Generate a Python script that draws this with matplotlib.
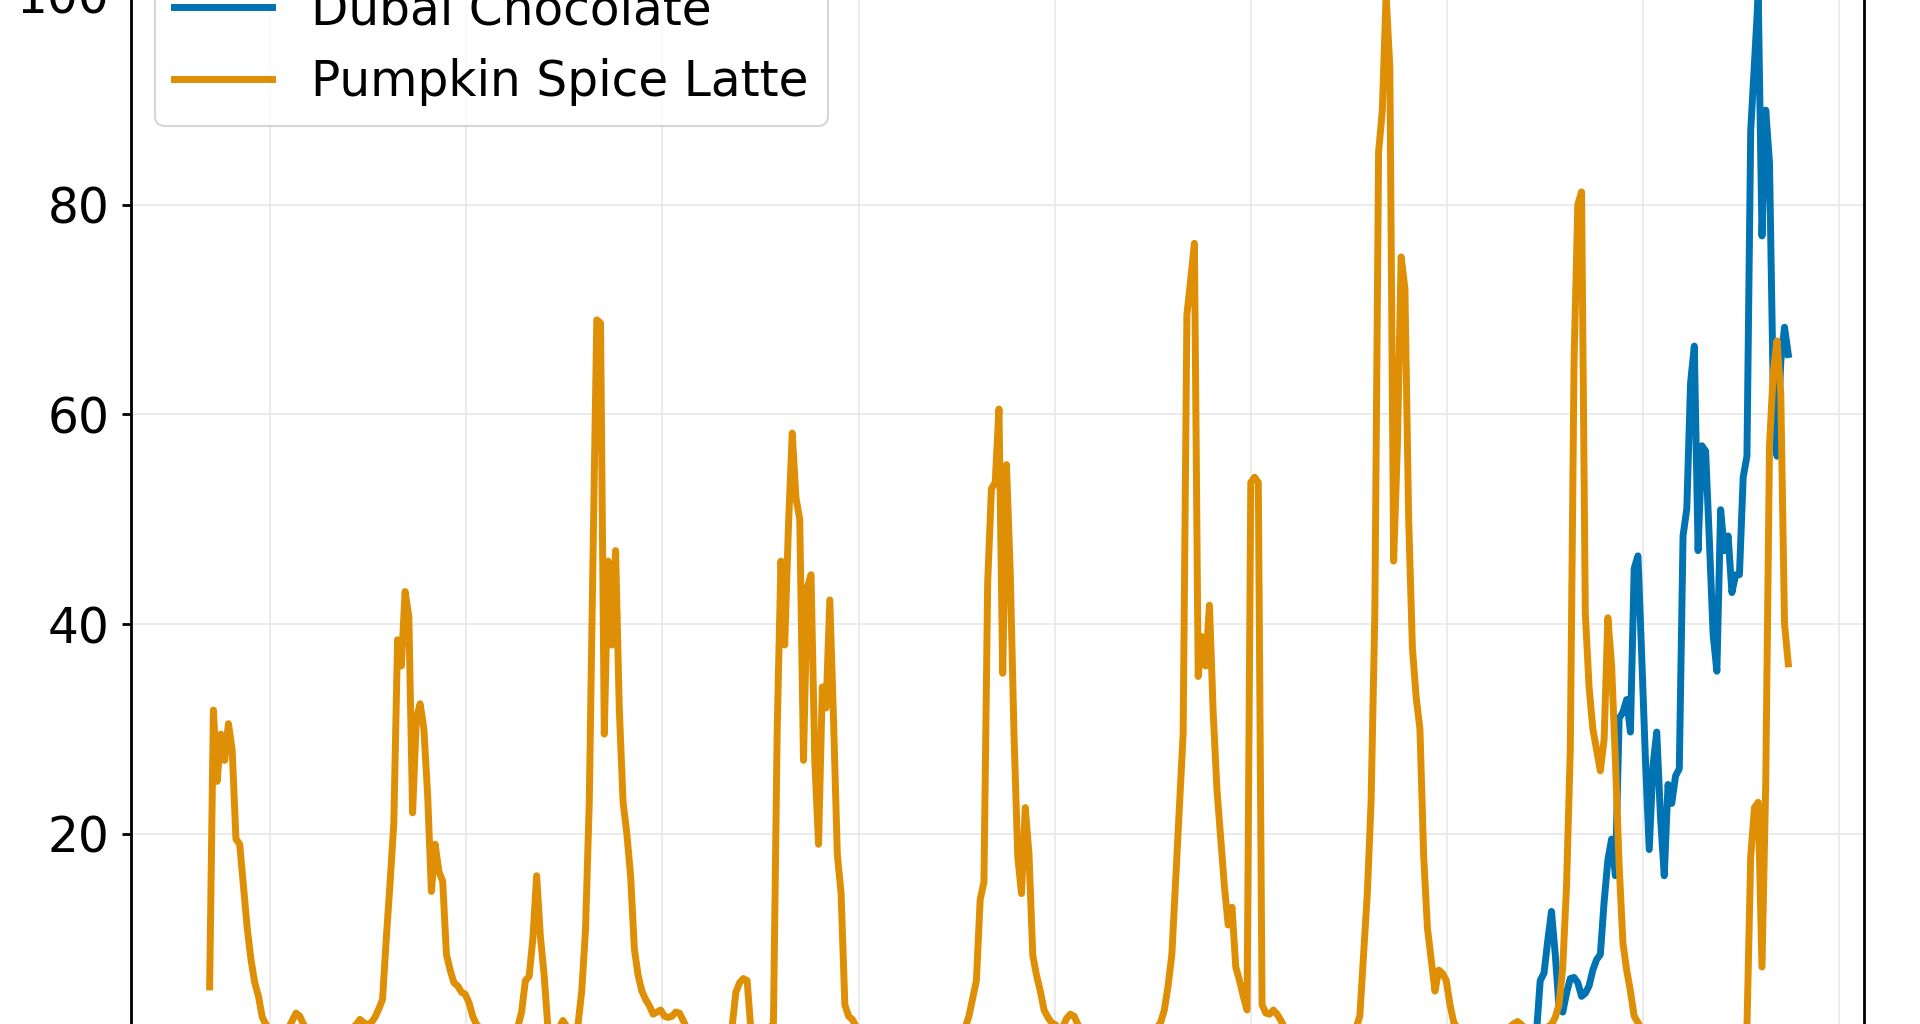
import numpy as np
import pandas as pd
import matplotlib
matplotlib.use("Agg")
import matplotlib.pyplot as plt
import matplotlib.dates as mdates

# ---------------- data (weekly search interest, 0-100) ----------------
FIRST_WEEK = "2017-09-10"
series_labels = ["Dubai Chocolate", "Pumpkin Spice Latte"]
x_range = ("2017-04-16", "2026-02-16")

# week numbers (counted from FIRST_WEEK) where each block of values begins
psl_block_start_weeks = [0, 43, 98, 149, 201, 252, 305, 358, 409]

psl_2017 = [5.4, 31.8, 25, 29.5, 27, 30.5, 28, 19.5, 19, 15, 11, 8, 5.8, 4.5, 2.5,
            1.8, 1.4, 1.2, 1.1, 1.0, 1.2, 1.5, 2.2, 2.9, 2.6, 1.8, 1.4, 1.3, 1.2,
            1.1, 1.0, 1.0, 1.0, 1.1, 1.2, 1.4, 1.5, 1.4, 1.5, 1.8, 2.3, 2.0, 1.8]
psl_2018 = [2.0, 2.5, 3.3, 4.2, 10, 15.3, 21, 38.5, 36, 43.1, 40.7, 22, 31, 32.4,
            30, 23.7, 14.5, 19, 16.4, 15.5, 8.5, 7, 5.8, 5.5, 4.9, 4.7, 3.9, 2.6,
            1.8, 1.5, 1.3, 1.2, 1.1, 1.0, 1.0, 1.0, 1.1, 1.2, 1.4, 1.6, 3, 6, 6.4,
            10, 16, 10.2, 6.5, 1.5, 1.3, 1.2, 1.5, 2.2, 1.6, 1.3, 1.2]
psl_2019 = [1.8, 5, 10.8, 23, 46.5, 69, 68.7, 29.5, 46, 38,
            47, 31.8, 23, 20, 16, 9, 6.5, 5, 4.2, 3.6,
            2.8, 3.0, 3.2, 2.6, 2.5, 2.6, 3.0, 2.9, 2.2, 1.4,
            1.2, 1.1, 1.0, 1.0, 1.0, 1.0, 1.1, 1.2, 1.3, 1.4,
            1.5, 1.6, 4.9, 5.8, 6.2, 6.0, 1.3, 1.2, 1.2, 1.3,
            1.4]
psl_2020 = [1.3, 2.0, 30, 46, 38, 49.4, 58.2, 52, 50, 27,
            43.5, 44.7, 27, 19, 34, 32, 42.3, 30.7, 18, 14.3,
            3.7, 2.6, 2.3, 1.6, 1.3, 1.2, 1.0, 1.0, 1.0, 0.9,
            0.9, 1.0, 1.0, 1.1, 1.1, 1.2, 1.2, 1.3, 1.2, 1.2,
            1.3, 1.4, 1.3, 1.2, 1.3, 1.4, 1.5, 1.4, 1.3, 1.4,
            1.5, 1.4]
psl_2021 = [1.5, 2.6, 4.3, 6, 13.7, 15.4, 44, 52.9, 53.5, 60.5,
            35.3, 55.2, 45, 29.5, 17.8, 14.3, 22.5, 18, 8.4, 6.5,
            5, 3.2, 2.5, 2, 1.8, 1.4, 1.6, 2.4, 2.8, 2.6,
            1.8, 1.3, 1.2, 1.1, 1.0, 1.0, 1.0, 1.0, 1.1, 1.1,
            1.2, 1.2, 1.3, 1.3, 1.2, 1.3, 1.4, 1.4, 1.3, 1.4,
            1.5]
psl_2022 = [1.5, 2, 3.2, 5.5, 8.5, 15.4, 22.5, 29.5, 69.5, 72.8,
            76.3, 35, 38.8, 36, 41.8, 31.5, 24.2, 19.5, 14.9, 11.3,
            13, 7.3, 6, 4.5, 3.2, 53.5, 54, 53.5, 3.7, 2.9,
            2.8, 3.2, 2.8, 2.2, 1.5, 1.3, 1.2, 1.1, 1.0, 1.0,
            1.0, 1.0, 1.1, 1.1, 1.2, 1.2, 1.3, 1.3, 1.2, 1.3,
            1.4, 1.4, 1.3]
psl_2023 = [1.5, 2.6, 8.4, 14.3, 23, 41, 85, 89, 100, 93,
            46, 57, 75, 72, 50, 37.7, 33, 30, 17.8, 11,
            8, 5, 7, 6.7, 6, 3.7, 2, 1.5, 1.3, 1.2,
            1.1, 1.0, 1.0, 1.0, 1.0, 1.1, 1.1, 1.2, 1.2, 1.3,
            1.4, 1.6, 1.9, 2.1, 1.8, 1.4, 1.3, 1.2, 1.3, 1.4,
            1.5, 1.6, 1.8]
psl_2024 = [2.5, 3.7, 7.3, 15, 28, 65, 80, 81.2, 41, 34,
            30, 28, 26, 29, 40.6, 36, 27, 17, 9.6, 7,
            5, 2.6, 2, 1.4, 1.2, 1.1, 1.0, 1.0, 1.0, 1.0,
            1.1, 1.1, 1.2, 1.2, 1.2, 1.3, 1.3, 1.2, 1.3, 1.4,
            1.3, 1.4, 1.5, 1.4, 1.3, 1.4, 1.5, 1.4, 1.3, 1.4,
            1.5]
psl_2025 = [1.5, 17.8, 22.5, 23, 7.3, 24.8, 57, 64, 67, 62, 40, 36.2]

dubai_start_week = 353
dubai_values = [1.0, 6, 6.7, 9.8, 12.6, 8.5, 3.5, 3, 4.8, 6.2, 6.3, 5.8, 4.5, 4.8,
                5.5, 7, 8, 8.5, 13.5, 17.5, 19.5, 16, 31, 31.6, 32.8, 29.7, 45.3,
                46.5, 37, 27, 18.5, 26.5, 29.7, 21.6, 16, 24.7, 22.9, 25.5, 26.2,
                48.4, 51, 63, 66.5, 47, 57, 56.5, 48, 39, 35.5, 50.9, 47, 48.4, 43,
                44.7, 44.7, 54, 56, 87, 93.5, 100, 77, 89, 84, 62, 56, 65, 68.3, 65.7]

y_ticks = [0, 20, 40, 60, 80, 100]

# ---------------- assemble ----------------
base = pd.Timestamp(FIRST_WEEK)
psl_blocks = [psl_2017, psl_2018, psl_2019, psl_2020, psl_2021,
              psl_2022, psl_2023, psl_2024, psl_2025]
psl_dates, psl_vals = [], []
for start, block in zip(psl_block_start_weeks, psl_blocks):
    for i, v in enumerate(block):
        psl_dates.append(base + pd.Timedelta(weeks=start + i))
        psl_vals.append(v)
dubai_dates = [base + pd.Timedelta(weeks=dubai_start_week + i) for i in range(len(dubai_values))]

# ---------------- plot ----------------
W, H = 1920, 1024
fig = plt.figure(figsize=(W / 100, H / 100), dpi=100)
fig.patch.set_facecolor("white")
ax_left, ax_right = 130.7, 1864
ax_top, ax_bottom = -57.7, 1096.0
ax = fig.add_axes([ax_left / W, 1 - ax_bottom / H,
                   (ax_right - ax_left) / W, (ax_bottom - ax_top) / H])

ax.plot(dubai_dates, dubai_values, color="#0173B2", lw=5.0, label=series_labels[0])
ax.plot(psl_dates, psl_vals, color="#DE8F05", lw=5.0, label=series_labels[1])

ax.set_xlim(pd.Timestamp(x_range[0]), pd.Timestamp(x_range[1]))
ax.set_ylim(-5, 105)
ax.set_yticks(y_ticks)
ax.xaxis.set_major_locator(mdates.YearLocator())
ax.grid(True, color="#e6e6e6", linewidth=1.1)
ax.set_axisbelow(True)
ax.tick_params(axis="both", labelsize=35, length=6.5, width=2, pad=8.5, color="black")
ax.tick_params(axis="x", labelbottom=False)
for s in ax.spines.values():
    s.set_linewidth(2)
    s.set_color("black")

leg = ax.legend(loc="upper left", fontsize=35, frameon=True)
leg.get_frame().set_linewidth(1.5)
leg.get_frame().set_edgecolor("#cccccc")

fig.savefig("out.png", dpi=100)
